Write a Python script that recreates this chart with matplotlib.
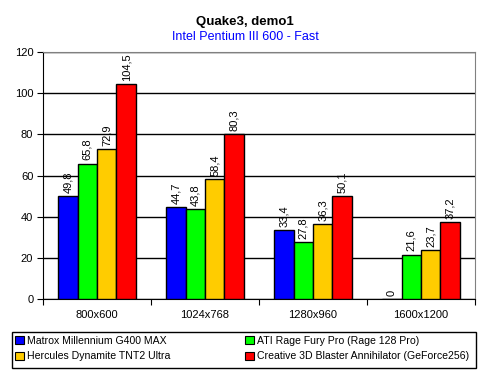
import matplotlib
matplotlib.use("Agg")
import matplotlib.pyplot as plt
import numpy as np
from matplotlib.patches import Patch, Rectangle

categories = ["800x600", "1024x768", "1280x960", "1600x1200"]
series_names = ["Matrox Millennium G400 MAX", "ATI Rage Fury Pro (Rage 128 Pro)",
                "Hercules Dynamite TNT2 Ultra", "Creative 3D Blaster Annihilator (GeForce256)"]
values = [
    [49.8, 44.7, 33.4, 0],
    [65.8, 43.8, 27.8, 21.6],
    [72.9, 58.4, 36.3, 23.7],
    [104.5, 80.3, 50.1, 37.2],
]
colors = ["#0000FF", "#00FF00", "#FFCC00", "#FF0000"]
yticks = [0, 20, 40, 60, 80, 100, 120]

plt.rcParams['font.family'] = ['Liberation Sans', 'DejaVu Sans']
fs = 8
W, H = 490, 377
fig = plt.figure(figsize=(W/100, H/100), dpi=100)
ax = fig.add_axes([43/W, 1-299/H, (475-43)/W, (299-52)/H])

n = len(series_names)
bw = 0.18
x = np.arange(len(categories))
for i in range(n):
    pos = x - 2*bw + bw/2 + i*bw
    ax.bar(pos, values[i], width=bw, color=colors[i], edgecolor="black", linewidth=1, zorder=3)
    for p, v in zip(pos, values[i]):
        ax.text(p, v + 1.5, f"{v:g}".replace(".", ","), rotation=90, ha="center", va="bottom",
                fontsize=fs, zorder=4)

ax.set_xlim(-0.5, len(categories)-0.5)
ax.set_ylim(0, 120)
ax.set_yticks(yticks)
ax.set_yticklabels([str(t) for t in yticks], fontsize=fs)
ax.yaxis.grid(True, color="black", linewidth=1, zorder=0)
ax.set_xticks(np.arange(-0.5, len(categories), 1.0))
ax.set_xticklabels([])
ax.set_xticks(x, minor=True)
ax.set_xticklabels(categories, minor=True, fontsize=fs)
ax.tick_params(axis="x", which="minor", length=0, pad=8)
ax.tick_params(axis="x", which="major", length=4, direction="out", color="black")
ax.tick_params(axis="y", length=4, direction="out", color="black", pad=3)
ax.spines["top"].set_color("#808080")
ax.spines["right"].set_color("#808080")
ax.spines["left"].set_color("black")
ax.spines["bottom"].set_color("black")

fig.text(245/W, 1-22/H, "Quake3, demo1", ha="center", va="center", fontsize=9.5, fontweight="bold")
fig.text(245/W, 1-37/H, "Intel Pentium III 600 - Fast", ha="center", va="center", fontsize=9, color="#0000FF")

# legend frame
fig.add_artist(Rectangle((12/W, 1-368/H), (476-12)/W, 36/H, transform=fig.transFigure,
                         facecolor="white", edgecolor="black", linewidth=1))
handles = [Patch(facecolor=c, edgecolor="black", linewidth=0.8) for c in colors]
for col, x0 in enumerate([14, 244]):
    idx = [col, col + 2]
    fig.legend([handles[k] for k in idx], [series_names[k] for k in idx], loc="upper left",
               bbox_to_anchor=(x0/W, 1-335/H), ncol=1, fontsize=7.6, frameon=False,
               handlelength=0.8, handleheight=0.8, handletextpad=0.3, borderpad=0.1,
               labelspacing=0.5, borderaxespad=0)

fig.savefig("out.png", dpi=100)
